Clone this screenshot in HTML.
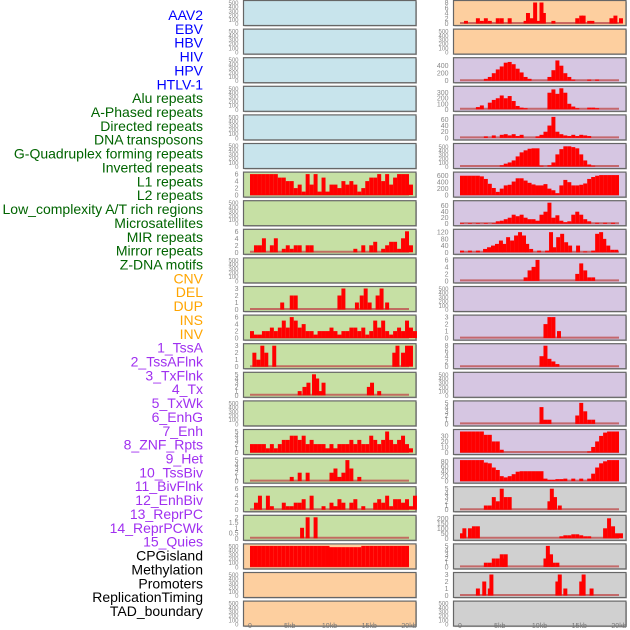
<!DOCTYPE html>
<html><head><meta charset="utf-8">
<style>
body{margin:0;background:#fff;width:630px;height:630px;overflow:hidden}
svg{display:block;font-family:"Liberation Sans",sans-serif}
</style></head>
<body>
<svg id="chart" width="630" height="630" viewBox="0 0 630 630"></svg>
<script>
const rowLabels=["AAV2","EBV","HBV","HIV","HPV","HTLV-1","Alu repeats","A-Phased repeats","Directed repeats","DNA transposons","G-Quadruplex forming repeats","Inverted repeats","L1 repeats","L2 repeats","Low_complexity A/T rich regions","Microsatellites","MIR repeats","Mirror repeats","Z-DNA motifs","CNV","DEL","DUP","INS","INV","1_TssA","2_TssAFlnk","3_TxFlnk","4_Tx","5_TxWk","6_EnhG","7_Enh","8_ZNF_Rpts","9_Het","10_TssBiv","11_BivFlnk","12_EnhBiv","13_ReprPC","14_ReprPCWk","15_Quies","CPGisland","Methylation","Promoters","ReplicationTiming","TAD_boundary"];
const labelGroups=["v","v","v","v","v","v","r","r","r","r","r","r","r","r","r","r","r","r","r","c","c","c","c","c","s","s","s","s","s","s","s","s","s","s","s","s","s","s","s","b","b","b","b","b"];
const xTickKb=[0,5,10,15,20];
const xTickLabels=["0","5kb","10kb","15kb","20kb"];
const leftBg=["lb","lb","lb","lb","lb","lb","g","g","g","g","g","g","g","g","g","g","g","g","g","p","p","p"];
const rightBg=["p","p","l","l","l","l","l","l","l","l","l","l","l","l","l","l","l","gr","gr","gr","gr","gr"];
const E=[0,100,200,300,400,500];
const leftTicks=[E,E,E,E,E,E,[0,2,4,6],E,[0,2,4,6],E,[0,1,2,3],[0,2,4,6],[0,1,2,3],[0,1,2,3,4,5],E,[0,1,2,3,4,5],[0,1,2,3,4,5],[0,2,4,6],[0,0.5,1,1.5,2],E,E,E];
const leftMax=[500,500,500,500,500,500,6,500,6,500,3,6,3,5,500,5,5,6,2,500,500,500];
const rightTicks=[[0,2,4,6,8],E,[0,200,400],[0,100,200,300],[0,20,40,60],E,[0,200,400,600],[0,20,40,60],[0,40,80,120],[0,2,4,6],E,[0,1,2,3],[0,2,4,6,8],E,[0,1,2,3,4,5],[0,10,20,30],[0,20,40,60,80],[0,1,2,3,4,5],[0,50,100,150,200],[0,1,2,3,4,5],[0,1,2,3],E];
const rightMax=[8,500,560,380,68,520,650,70,125,6,500,3,8,500,5,38,85,5,210,5,3,500];
// data: [kb, value] pairs (bin width 0.5kb)
const L6=[[0,6],[0.5,6],[1,6],[1.5,6],[2,6],[2.5,6],[3,6],[3.5,5],[4,5],[4.5,4],[5,4],[5.5,2],[6,3],[6.5,1],[7,6],[7.5,3],[8,6],[8.5,1],[9,5],[9.5,1],[10,3],[10.5,3],[11,2],[11.5,4],[12,3],[12.5,4],[13,3],[13.5,1],[14,2],[14.5,4],[15,5],[15.5,5],[16,6],[16.5,4],[17,6],[17.5,3],[18,5],[18.5,6],[19,6],[19.5,6],[20,3]];
const L8=[[0.5,2],[1,2],[1.5,4],[2.5,2],[3,4],[4,1],[4.5,2],[5,1],[5.5,2],[6,2],[7,2],[7.5,2],[13,1],[14,2],[15,2],[15.5,3],[16.5,1],[17,2],[17.5,3],[18,3],[18.5,1],[19,4],[19.5,6],[20,2]];
const L10=[[3.8,1],[5,2],[5.5,2],[11,2],[11.5,3],[13.2,1],[13.8,2],[14.3,3],[14.8,1],[15.8,2],[16.3,3],[17,1]];
const L11=[[0,2],[0.5,1],[1,1],[1.5,2],[2,2],[2.5,3],[3,2],[3.5,3],[4,5],[4.5,3],[5,6],[5.5,5],[6,3],[6.5,4],[7,2],[7.5,2],[8,1],[8.5,2],[9,2],[9.5,2],[10,3],[10.5,2],[11,1],[11.5,2],[12,2],[12.5,3],[13,3],[13.5,2],[14,3],[14.5,1],[15,2],[15.5,5],[16,3],[16.5,5],[17,2],[17.5,1],[18,2],[18.5,3],[19,2],[19.5,5],[20,3],[20.5,2]];
const L12=[[0.3,2],[0.8,1],[1.3,3],[1.8,2],[2.8,3],[17.9,2],[18.3,3],[19,2],[19.5,3],[20,3]];
const L13=[[6,1],[6.6,2],[7.1,3],[7.8,5],[8.2,4],[8.6,1],[9,3],[14.7,2],[15.1,3],[16,1]];
const L15=[[0,2],[0.5,2],[1,2],[1.5,2],[2,1],[2.5,2],[3,1],[3.5,2],[4,3],[4.5,3],[5,4],[5.5,4],[6,3],[6.5,4],[7,2],[7.5,3],[8,2],[8.5,2],[9,2],[9.5,1],[10,2],[10.5,1],[11,2],[11.5,2],[12,2],[12.5,3],[13,2],[13.5,3],[14,2],[14.5,2],[15,4],[15.5,3],[16,2],[16.5,3],[17,5],[17.5,3],[18,2],[18.5,3],[19,4],[19.5,2],[20,1]];
const L16=[[5,1],[6,2],[7,2],[10,2],[10.5,3],[11,1],[11.5,2],[12,5],[12.5,3],[13.5,1]];
const L17=[[0.5,2],[1,4],[2,4],[2.5,1],[4,2],[4.5,1],[5,1],[5.5,2],[6,2],[6.5,3],[7.5,4],[9,1],[10,2],[10.5,1],[11,3],[11.5,2],[12.5,2],[13,3],[14,1],[15.5,2],[16,3],[16.5,2],[17,4],[17.5,1],[18,3],[18.5,3],[19,2],[19.5,3],[20,1],[20.5,4]];
const L18=[[6.3,1],[7,2],[8,2]];
const L19=[[0,500],[0.5,500],[1,500],[1.5,500],[2,500],[2.5,500],[3,500],[3.5,500],[4,500],[4.5,500],[5,500],[5.5,500],[6,500],[6.5,500],[7,500],[7.5,500],[8,500],[8.5,500],[9,500],[9.5,500],[10,470],[10.5,470],[11,470],[11.5,470],[12,470],[12.5,470],[13,470],[13.5,470],[14,500],[14.5,500],[15,500],[15.5,500],[16,500],[16.5,500],[17,500],[17.5,500],[18,500],[18.5,500],[19,500],[19.5,500]];
const R0=[[0.5,1],[2,2],[2.5,1],[3,2],[3.5,1],[4.5,2],[5,2],[6,2],[8,1],[8.3,4],[8.8,2],[9.2,8],[9.6,1],[10,8],[10.3,4],[11.5,1],[14.5,2],[15,3],[15.3,3],[16,1],[16.4,1],[18.8,2],[19.3,3],[20,2]];
const R2=[[3,50],[3.5,100],[4,200],[4.5,300],[5,380],[5.5,480],[6,500],[6.5,440],[7,320],[7.5,220],[8,100],[8.5,50],[11,100],[11.5,280],[12,540],[12.5,400],[13,200],[13.5,100],[14,30],[16,30],[17,30]];
const R3=[[2,40],[2.5,70],[3.5,120],[4,170],[4.5,200],[5,250],[5.5,200],[6,240],[6.5,150],[7,60],[7.5,30],[8,20],[11,300],[11.5,360],[12,280],[12.5,380],[13,300],[13.5,100],[14,50],[14.5,20],[16,30],[16.5,30],[17,20]];
const R4=[[3,5],[4,8],[5,10],[5.5,12],[6,8],[6.5,12],[7,6],[7.5,10],[9.5,5],[10,10],[10.5,20],[11,40],[11.5,68],[12,20],[12.5,12],[13,8],[13.5,6],[14,10],[14.5,6],[15,10],[15.5,8],[16,6]];
const R5=[[5,30],[5.5,70],[6,100],[6.5,150],[7,250],[7.5,350],[8,400],[8.5,440],[9,450],[9.5,450],[10,20],[11,30],[11.5,100],[12,300],[12.5,430],[13,500],[13.5,500],[14,480],[14.5,450],[15,300],[15.5,150],[16,50],[16.5,20]];
const R6=[[0,600],[0.5,600],[1,600],[1.5,600],[2,600],[2.5,580],[3,500],[3.5,350],[4,220],[4.5,100],[5,200],[5.5,300],[6,320],[6.5,420],[7,520],[7.5,520],[8,450],[8.5,380],[9,330],[9.5,300],[10,300],[10.5,340],[11,200],[11.5,150],[12,60],[12.5,300],[13,470],[13.5,400],[14,300],[14.5,300],[15,320],[15.5,360],[16,500],[16.5,560],[17,600],[17.5,620],[18,620],[18.5,620],[19,620],[19.5,620]];
const R7=[[0,2],[1,2],[2,2],[3,2],[4,2],[4.5,8],[5,10],[5.5,15],[6,20],[6.5,30],[7,25],[7.5,30],[8,20],[8.5,15],[9,15],[9.5,10],[10,30],[10.5,40],[11,70],[11.5,20],[12,28],[12.5,10],[13,5],[13.5,8],[14,30],[14.5,40],[15,30],[15.5,15],[16,8],[17,3],[18,3],[19,3]];
const R8=[[0,10],[1,10],[2,10],[2.9,20],[3.4,30],[3.9,40],[4.4,50],[4.9,70],[5.3,50],[5.8,90],[6.3,70],[6.8,100],[7.3,120],[7.8,100],[8.2,50],[8.7,20],[9.7,10],[10.7,10],[11.2,120],[11.6,30],[12.1,90],[12.6,110],[13.1,60],[13.6,40],[14.6,40],[15.5,5],[16.5,10],[17,110],[17.5,120],[17.9,80],[18.4,40],[18.9,15],[19.4,15]];
const R9=[[8,1],[8.5,3],[9,4],[9.5,6],[14.5,2],[15,5],[15.5,3],[16,1],[16.5,1]];
const R11=[[10.5,2],[11,3],[11.5,3],[12.2,1]];
const R12=[[10,4],[10.5,8],[11,3],[11.5,2],[12,1]];
const R14=[[10,4],[10.5,1],[11,1],[14.5,2],[15,5],[15.5,3],[16,1],[16.5,1]];
const R15=[[0,38],[0.5,38],[1,38],[1.5,38],[2,38],[2.5,38],[3,32],[3.5,32],[4,20],[4.5,20],[5,5],[16,2],[16.5,10],[17,20],[17.5,30],[18,36],[18.5,38],[19,38],[19.5,38]];
const R16=[[0,85],[0.5,85],[1,85],[1.5,85],[2,85],[2.5,85],[3,75],[3.5,72],[4,55],[4.5,45],[5,20],[5.5,15],[6,20],[6.5,28],[7,38],[7.5,40],[8,40],[8.5,40],[9,40],[9.5,40],[10,40],[10.5,10],[11,5],[11.5,5],[12,8],[12.5,8],[13,10],[14,10],[15,10],[16,10],[16.5,30],[17,55],[17.5,72],[18,80],[18.5,85],[19,85],[19.5,85]];
const R17=[[3,1],[3.5,1],[4,3],[4.5,2],[5,5],[5.5,3],[6,3],[11,2],[11.3,5],[11.7,3],[12.3,1]];
const R18=[[0,50],[0.3,100],[1,100],[1.5,120],[2,120],[12.5,20],[13,30],[13.5,30],[14,40],[14.5,40],[15,30],[15.5,20],[16,20],[18,100],[18.5,200],[19,120],[19.5,50],[20,50]];
const R19=[[3,1],[3.5,1],[4,2],[4.5,2],[5,3],[5.3,2],[5.5,3],[10.5,2],[10.8,5],[11.2,3],[11.5,1],[12,1]];
const R20=[[2,1],[2.8,2],[3.5,1],[3.7,3],[12,2],[12.3,3],[13,1],[15,2],[15.3,3],[16.3,1]];
const leftData=[null,null,null,null,null,null,L6,null,L8,null,L10,L11,L12,L13,null,L15,L16,L17,L18,L19,null,null];
const rightData=[R0,null,R2,R3,R4,R5,R6,R7,R8,R9,null,R11,R12,null,R14,R15,R16,R17,R18,R19,R20,null];

const NS="http://www.w3.org/2000/svg";
const svg=document.getElementById('chart');
function mk(t,a,p){const e=document.createElementNS(NS,t);for(const k in a)e.setAttribute(k,a[k]);(p||svg).appendChild(e);return e;}
const groupColor={v:"#0000ff",r:"#006400",c:"#ffa500",s:"#a030f0",b:"#000000"};
const bgColor={lb:"#c8e4ec",g:"#c6e0a4",p:"#fdcf9f",l:"#d6c6e2",gr:"#d0d0d0"};
rowLabels.forEach((t,i)=>{
  const e=mk('text',{x:203,y:20+i*13.86,'text-anchor':'end','font-size':14,fill:groupColor[labelGroups[i]]});
  e.textContent=t;
  
  
});
const PITCH=28.6,PH=25;
function panel(col,i,bg,ticks,ymax,data){
  const x0=col?453.5:243.5,x1=col?626:416,zero=col?460:250,kbpx=7.95;
  const top=0.5+i*PITCH;
  const g=mk('g',{});
  
  
  mk('rect',{x:x0+1,y:top+1,width:x1-x0,height:PH,fill:'#bbb'},g);
  mk('rect',{x:x0,y:top,width:x1-x0,height:PH,fill:bgColor[bg],stroke:'#666','stroke-width':1.2},g);
  const ybase=top+PH-2,ytop=top+2;
  const yv=v=>ybase-(v/ymax)*(ybase-ytop);
  const xv=k=>zero+k*kbpx;
  ticks.forEach(t=>{
    const e=mk('text',{x:x0-5,y:yv(t)+2.5,'text-anchor':'end','font-size':ymax>=500&&ticks.length>5?6:7,fill:'#888'},g);
    e.textContent=t;
    
    
  });
  if(data){
    mk('line',{x1:xv(0),x2:xv(20),y1:ybase-0.5,y2:ybase-0.5,stroke:'#c05050','stroke-width':2,opacity:0.8},g);
    data.forEach(d=>{
      const b=mk('rect',{x:xv(d[0]),y:yv(d[1]),width:kbpx*0.5,height:ybase-yv(d[1]),fill:'#ff0000'},g);
      
      
    });
  }
}
for(let i=0;i<22;i++){
  panel(0,i,leftBg[i],leftTicks[i],leftMax[i],leftData[i]);
  panel(1,i,rightBg[i],rightTicks[i],rightMax[i],rightData[i]);
}
[0,1].forEach(col=>{
  const zero=col?460:250;
  xTickKb.forEach((k,j)=>{
    const e=mk('text',{x:zero+k*7.95,y:628,'text-anchor':'middle','font-size':7,fill:'#777'});
    e.textContent=xTickLabels[j];
    
    
  });
});
</script>
</body></html>
